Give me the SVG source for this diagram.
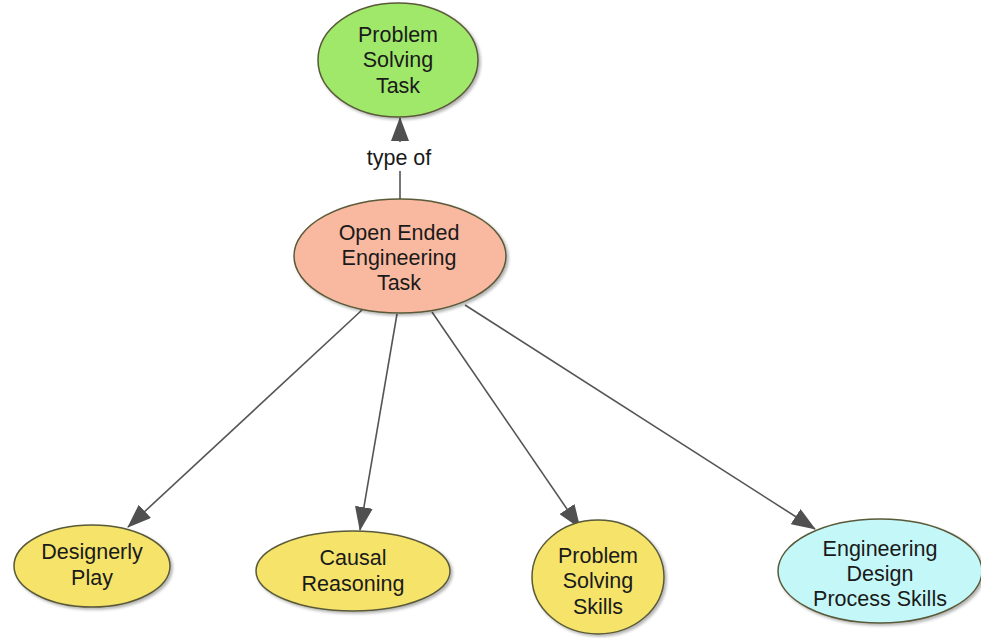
<svg xmlns="http://www.w3.org/2000/svg" width="981" height="638" viewBox="0 0 981 638">
<defs>
<style>
.node ellipse{stroke:#5a5a3a;stroke-width:1.5;filter:url(#sh)}
.lbl{font-family:"Liberation Sans",Arial,sans-serif;font-size:21.5px;fill:#1a1a1a;text-anchor:middle}
.conn line{stroke:#555;stroke-width:1.6;fill:none}
</style>
<filter id="sh" x="-10%" y="-10%" width="130%" height="130%">
<feGaussianBlur in="SourceAlpha" stdDeviation="1.5"/>
<feOffset dx="2" dy="2" result="b"/>
<feComponentTransfer><feFuncA type="linear" slope="0.3"/></feComponentTransfer>
<feMerge><feMergeNode/><feMergeNode in="SourceGraphic"/></feMerge>
</filter>
<marker id="ah" markerUnits="userSpaceOnUse" markerWidth="24" markerHeight="18" viewBox="0 0 24 18" refX="23" refY="9" orient="auto">
<path d="M0,0 L24,9 L0,18 Z" fill="#505050"/>
</marker>
</defs>
<rect width="981" height="638" fill="#fff"/>
<g id="connectors" class="conn">
<line x1="400" y1="200" x2="400" y2="171"/>
<line x1="400" y1="142" x2="400" y2="118" marker-end="url(#ah)"/>
<text class="lbl" x="399" y="165">type of</text>
<line x1="362" y1="310" x2="128" y2="527" marker-end="url(#ah)"/>
<line x1="397" y1="314" x2="360" y2="530" marker-end="url(#ah)"/>
<line x1="432" y1="312" x2="580" y2="528" marker-end="url(#ah)"/>
<line x1="465" y1="305" x2="815" y2="529" marker-end="url(#ah)"/>
</g>
<g id="n_pst" class="node">
<ellipse cx="398" cy="60" rx="80" ry="57" fill="#9fe86a"/>
<text class="lbl" x="398" y="42">Problem</text>
<text class="lbl" x="398" y="67">Solving</text>
<text class="lbl" x="398" y="93">Task</text>
</g>
<g id="n_oeet" class="node">
<ellipse cx="400" cy="256" rx="106" ry="57" fill="#f9b9a0"/>
<text class="lbl" x="399" y="240">Open Ended</text>
<text class="lbl" x="399" y="265">Engineering</text>
<text class="lbl" x="399" y="290">Task</text>
</g>
<g id="n_dp" class="node">
<ellipse cx="92" cy="566" rx="78" ry="41" fill="#f5e36a"/>
<text class="lbl" x="92" y="559">Designerly</text>
<text class="lbl" x="92" y="585">Play</text>
</g>
<g id="n_cr" class="node">
<ellipse cx="353" cy="571" rx="97" ry="40" fill="#f5e36a"/>
<text class="lbl" x="353" y="565">Causal</text>
<text class="lbl" x="353" y="591">Reasoning</text>
</g>
<g id="n_pss" class="node">
<ellipse cx="598" cy="577" rx="66" ry="57" fill="#f5e36a"/>
<text class="lbl" x="598" y="563">Problem</text>
<text class="lbl" x="598" y="588">Solving</text>
<text class="lbl" x="598" y="614">Skills</text>
</g>
<g id="n_edps" class="node">
<ellipse cx="880" cy="571" rx="102" ry="52" fill="#c4f8f8"/>
<text class="lbl" x="880" y="556">Engineering</text>
<text class="lbl" x="880" y="581">Design</text>
<text class="lbl" x="880" y="606">Process Skills</text>
</g>
</svg>
